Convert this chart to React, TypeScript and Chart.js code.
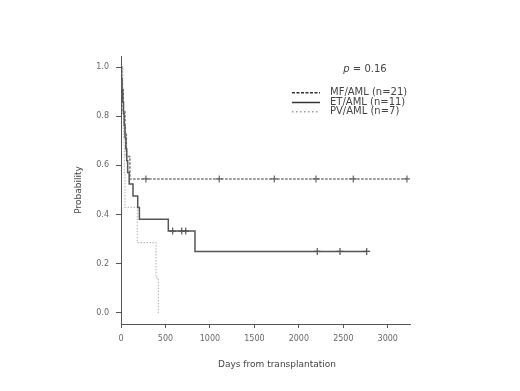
import React, { useEffect, useRef } from "react";
import { Chart, registerables } from "chart.js";

Chart.register(...registerables);

// x ticks (days) and y ticks (probability)
const xTickValues = [0, 500, 1000, 1500, 2000, 2500, 3000];
const yTickValues = [0, 0.2, 0.4, 0.6, 0.8, 1.0];

// Solid curve (step survival)
const solidTimes = [0, 5, 12, 20, 28, 36, 45, 55, 65, 75, 92, 135, 188, 207, 532, 832, 2763];
const solidSurv = [1, 0.952, 0.905, 0.857, 0.81, 0.762, 0.714, 0.667, 0.619, 0.571, 0.524, 0.476, 0.429, 0.381, 0.333, 0.25, 0.25];
const solidCensor = [581, 683, 728, 2207, 2463, 2763];

// Dashed curve
const dashedTimes = [0, 8, 25, 45, 60, 100, 3216];
const dashedSurv = [1, 0.909, 0.818, 0.727, 0.636, 0.545, 0.545];
const dashedCensor = [280, 1105, 1724, 2193, 2612, 3216];

// Dotted curve
const dottedTimes = [0, 20, 30, 38, 45, 183, 394, 420];
const dottedSurv = [1, 0.857, 0.714, 0.571, 0.429, 0.286, 0.143, 0];

const legendLabels = ["MF/AML (n=21)", "ET/AML (n=11)", "PV/AML (n=7)"];
const pValueText = "0.16";
const xTitle = "Days from transplantation";
const yTitle = "Probability";

function toPoints(times: number[], surv: number[]) {
  return times.map((t, i) => ({ x: t, y: surv[i] }));
}
function survAt(times: number[], surv: number[], t: number) {
  let s = surv[0];
  for (let i = 0; i < times.length; i++) if (times[i] <= t) s = surv[i];
  return s;
}

const textPlugin = {
  id: "textPlugin",
  afterDraw(chart: any) {
    const ctx = chart.ctx;
    ctx.save();
    // axis titles
    ctx.fillStyle = "#444";
    ctx.font = "9px 'DejaVu Sans'";
    ctx.textAlign = "center";
    ctx.textBaseline = "middle";
    ctx.fillText(xTitle, 277, 365);
    ctx.save();
    ctx.translate(79, 190);
    ctx.rotate(-Math.PI / 2);
    ctx.fillText(yTitle, 0, 0);
    ctx.restore();

    // p value
    ctx.font = "italic 10px 'DejaVu Sans'";
    ctx.textAlign = "left";
    const pw = ctx.measureText("p").width;
    ctx.font = "10px 'DejaVu Sans'";
    const rest = " = " + pValueText;
    const rw = ctx.measureText(rest).width;
    const px = 365 - (pw + rw) / 2;
    ctx.font = "italic 10px 'DejaVu Sans'";
    ctx.fillText("p", px, 69);
    ctx.font = "10px 'DejaVu Sans'";
    ctx.fillText(rest, px + pw, 69);

    // legend
    const rows = [92.7, 102.5, 111.7];
    const dashes = [[3, 1.5], [], [1.5, 2.5]];
    const colors = ["#333", "#333", "#999"];
    for (let i = 0; i < 3; i++) {
      ctx.beginPath();
      ctx.setLineDash(dashes[i]);
      ctx.strokeStyle = colors[i];
      ctx.lineWidth = 1.5;
      ctx.moveTo(292, rows[i]);
      ctx.lineTo(320, rows[i]);
      ctx.stroke();
      ctx.setLineDash([]);
      ctx.fillStyle = "#444";
      ctx.fillText(legendLabels[i], 330, rows[i]);
    }
    ctx.restore();
  },
};

export default function App() {
  const canvasRef = useRef<HTMLCanvasElement | null>(null);
  useEffect(() => {
    if (!canvasRef.current) return;
    const cross = (times: number[], ts: number[], ss: number[]) =>
      times.map((t) => ({ x: t, y: survAt(ts, ss, t) }));
    const chart = new Chart(canvasRef.current, {
      type: "line",
      data: {
        datasets: [
          {
            data: toPoints(solidTimes, solidSurv),
            borderColor: "#555",
            borderWidth: 1.5,
            stepped: "before",
            pointRadius: 0,
            fill: false,
            order: 1,
          },
          {
            data: toPoints(dashedTimes, dashedSurv),
            borderColor: "#777",
            borderWidth: 1.5,
            borderDash: [2.5, 1.5],
            stepped: "before",
            pointRadius: 0,
            fill: false,
            order: 2,
          },
          {
            data: toPoints(dottedTimes, dottedSurv),
            borderColor: "#bbb",
            borderWidth: 1.2,
            borderDash: [1.5, 1.5],
            stepped: "before",
            pointRadius: 0,
            fill: false,
            order: 3,
          },
          {
            data: cross(solidCensor, solidTimes, solidSurv),
            showLine: false,
            pointStyle: "cross",
            pointRadius: 3.5,
            borderColor: "#555",
            borderWidth: 1.2,
            order: 0,
          },
          {
            data: cross(dashedCensor, dashedTimes, dashedSurv),
            showLine: false,
            pointStyle: "cross",
            pointRadius: 3.5,
            borderColor: "#666",
            borderWidth: 1.2,
            order: 0,
          },
        ],
      } as any,
      options: {
        animation: false,
        responsive: true,
        maintainAspectRatio: false,
        layout: { padding: { top: 56, right: 110, left: 0, bottom: 0 } },
        plugins: { legend: { display: false }, tooltip: { enabled: false } },
        scales: {
          x: {
            type: "linear",
            min: 0,
            max: 3250,
            afterBuildTicks: (s: any) => {
              s.ticks = xTickValues.map((v) => ({ value: v }));
            },
            afterFit: (s: any) => {
              s.height = 67;
            },
            grid: { drawOnChartArea: false, drawTicks: true, tickLength: 4, color: "#555" },
            border: { display: true, color: "#555", width: 1 },
            ticks: {
              color: "#666",
              font: { family: "'DejaVu Sans'", size: 8 },
              padding: 6,
              maxRotation: 0,
              autoSkip: false,
              callback: (v: any) => String(v),
            },
          },
          y: {
            type: "linear",
            min: -0.045,
            max: 1.045,
            afterBuildTicks: (s: any) => {
              s.ticks = yTickValues.map((v) => ({ value: v }));
            },
            afterFit: (s: any) => {
              s.width = 121;
            },
            grid: { drawOnChartArea: false, drawTicks: true, tickLength: 5, color: "#555" },
            border: { display: true, color: "#555", width: 1 },
            ticks: {
              color: "#666",
              font: { family: "'DejaVu Sans'", size: 8 },
              padding: 7,
              autoSkip: false,
              callback: (v: any) => Number(v).toFixed(1),
            },
          },
        },
      } as any,
      plugins: [textPlugin],
    });
    return () => chart.destroy();
  }, []);
  return (
    <div style={{ position: "fixed", left: 0, top: 0, width: 520, height: 391, background: "#fff" }}>
      <canvas ref={canvasRef} />
    </div>
  );
}
